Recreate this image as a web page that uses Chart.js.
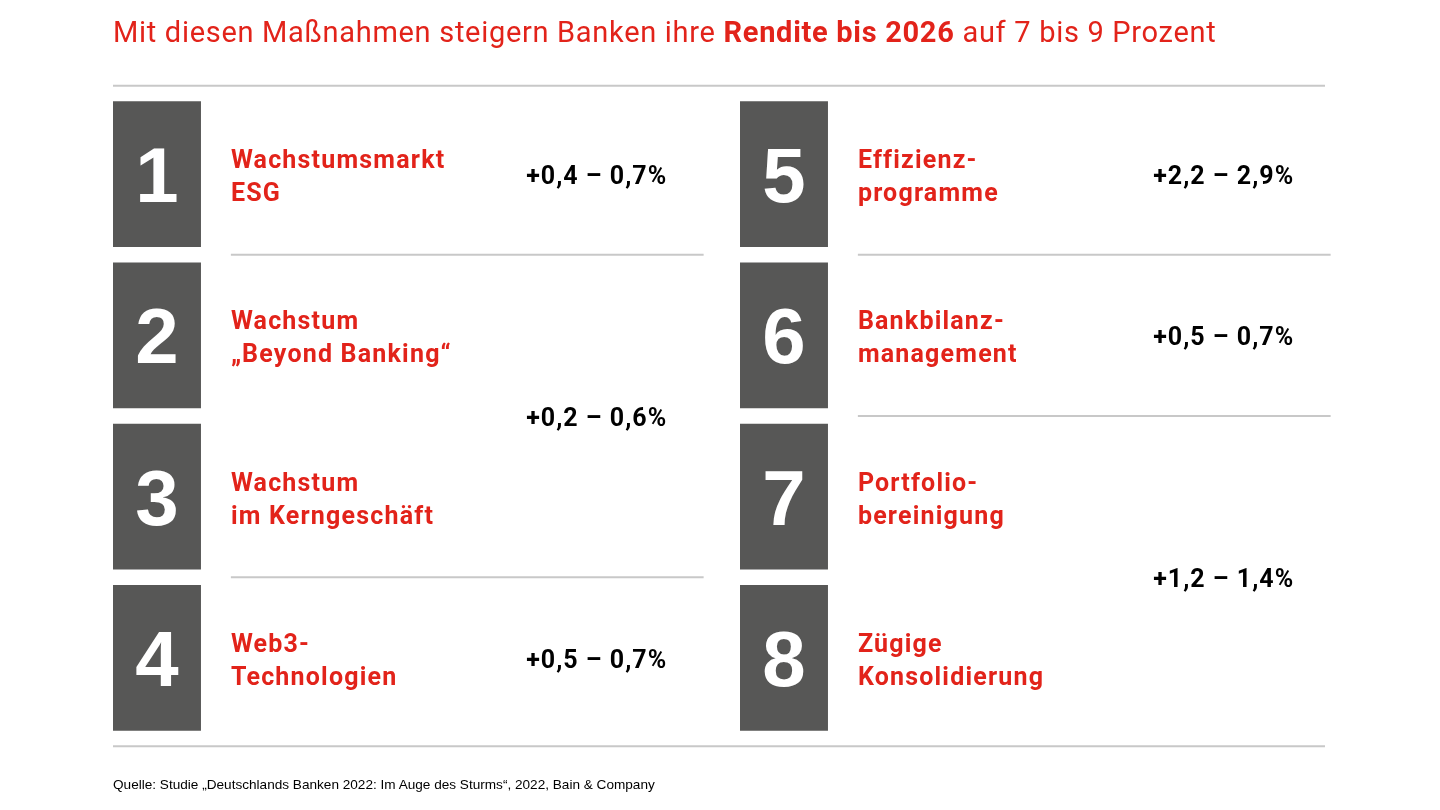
<!DOCTYPE html>
<html lang="de">
<head>
<meta charset="utf-8">
<title>Rendite bis 2026</title>
<script src="https://cdn.jsdelivr.net/npm/chart.js@4.4.1/dist/chart.umd.min.js"></script>
<style>
  html, body { margin: 0; padding: 0; background: #fff; }
  #wrap { position: relative; width: 1440px; height: 810px; overflow: hidden; }
  #chart { position: absolute; left: 0; top: 0; }
  #title {
    position: absolute; left: 113px; top: 18px; margin: 0;
    font: 400 29px/29px Roboto, sans-serif; letter-spacing: 0.7px;
    color: #e2231a; white-space: nowrap;
  }
  #title b { font-weight: 700; }
  #source {
    position: absolute; left: 113px; top: 778px; margin: 0;
    font: 400 13.6px/14px "Liberation Sans", Arial, sans-serif; color: #000; white-space: nowrap;
  }
</style>
</head>
<body>
<div id="wrap">
  <canvas id="chart" width="1440" height="810"></canvas>
  <p id="title">Mit diesen Maßnahmen steigern Banken ihre <b>Rendite bis 2026</b> auf 7 bis 9 Prozent</p>
  <p id="source">Quelle: Studie „Deutschlands Banken 2022: Im Auge des Sturms“, 2022, Bain &amp; Company</p>
</div>
<script>
// Maßnahmen 1-8 (links 1-4, rechts 5-8)
const itemNumbers = ['1', '2', '3', '4', '5', '6', '7', '8'];
const itemLabels = [
  ['Wachstumsmarkt', 'ESG'],
  ['Wachstum', '„Beyond Banking“'],
  ['Wachstum', 'im Kerngeschäft'],
  ['Web3-', 'Technologien'],
  ['Effizienz-', 'programme'],
  ['Bankbilanz-', 'management'],
  ['Portfolio-', 'bereinigung'],
  ['Zügige', 'Konsolidierung']
];
// Renditebeitrag je Gruppe (Prozentpunkte)
const groupItems = [[1], [2, 3], [4], [5], [6], [7, 8]];
const groupLow = [0.4, 0.2, 0.5, 2.2, 0.5, 1.2];
const groupHigh = [0.7, 0.6, 0.7, 2.9, 0.7, 1.4];

const rowLabels = ['Zeile 1', 'Zeile 2', 'Zeile 3', 'Zeile 4'];
const columnNames = ['Links', 'Rechts'];

const RED = '#e2231a';
const GRAY = '#575756';
const LINE = '#c8c8c8';
const BOX_W = 0.1403;     // Boxbreite in Spalteneinheiten
const LABEL_X = 0.188;
const VALUE_X = 0.659;
const SEP_END = 0.942;
const RULE_END = 1.933;

const fmt = v => v.toFixed(1).replace('.', ',');

const overlay = {
  id: 'overlay',
  afterDatasetsDraw(chart) {
    const { ctx, scales: { x } } = chart;
    const bar = i => chart.getDatasetMeta(Math.floor(i / 4)).data[i % 4];
    const first = bar(0);
    const pitch = bar(1).y - first.y;
    const gap = pitch - first.height;

    ctx.save();
    // Linien oben und unten
    ctx.strokeStyle = LINE;
    ctx.lineWidth = 2;
    const topY = first.y - first.height / 2 - gap;
    const botY = bar(3).y + first.height / 2 + gap;
    [topY, botY].forEach(yy => {
      ctx.beginPath();
      ctx.moveTo(x.getPixelForValue(0), yy);
      ctx.lineTo(x.getPixelForValue(RULE_END), yy);
      ctx.stroke();
    });

    // Nummern und Bezeichnungen
    itemNumbers.forEach((num, i) => {
      const b = bar(i);
      const col = Math.floor(i / 4);
      ctx.fillStyle = '#fff';
      ctx.letterSpacing = '0px';
      ctx.font = '700 78px "Liberation Sans", Arial, sans-serif';
      ctx.textAlign = 'center';
      ctx.textBaseline = 'alphabetic';
      ctx.fillText(num, (b.x + b.base) / 2, b.y + 28);

      ctx.fillStyle = RED;
      ctx.font = '700 25px Roboto, sans-serif';
      ctx.letterSpacing = '1.2px';
      ctx.textAlign = 'left';
      const lx = x.getPixelForValue(col + LABEL_X);
      ctx.fillText(itemLabels[i][0], lx, b.y - 6);
      ctx.fillText(itemLabels[i][1], lx, b.y + 27);
    });

    // Werte und Trennlinien je Gruppe
    groupItems.forEach((items, g) => {
      const col = Math.floor((items[0] - 1) / 4);
      const ys = items.map(n => bar(n - 1).y);
      const cy = ys.reduce((a, v) => a + v, 0) / ys.length;
      ctx.fillStyle = '#000';
      ctx.font = '700 25px Roboto, sans-serif';
      ctx.letterSpacing = '1px';
      ctx.textAlign = 'left';
      ctx.fillText('+' + fmt(groupLow[g]) + ' – ' + fmt(groupHigh[g]) + '%',
        x.getPixelForValue(col + VALUE_X), cy + 10);

      const next = groupItems[g + 1];
      const last = items[items.length - 1];
      if (next && Math.floor((next[0] - 1) / 4) === col) {
        const sy = bar(last - 1).y + pitch / 2;
        ctx.beginPath();
        ctx.moveTo(x.getPixelForValue(col + LABEL_X), sy);
        ctx.lineTo(x.getPixelForValue(col + SEP_END), sy);
        ctx.stroke();
      }
    });
    ctx.restore();
  }
};

new Chart(document.getElementById('chart'), {
  type: 'bar',
  data: {
    labels: rowLabels,
    datasets: columnNames.map((name, c) => ({
      label: name,
      data: itemNumbers.slice(c * 4, c * 4 + 4).map(() => [c, c + BOX_W]),
      backgroundColor: GRAY,
      borderWidth: 0,
      grouped: false,
      categoryPercentage: 1,
      barPercentage: 0.905
    }))
  },
  options: {
    indexAxis: 'y',
    responsive: false,
    animation: false,
    events: [],
    layout: { padding: { left: 113, right: 73, top: 93.5, bottom: 71.5 } },
    scales: {
      x: { type: 'linear', min: 0, max: 2, display: false },
      y: { display: false }
    },
    plugins: { legend: { display: false }, tooltip: { enabled: false } }
  },
  plugins: [overlay]
});
</script>
</body>
</html>
